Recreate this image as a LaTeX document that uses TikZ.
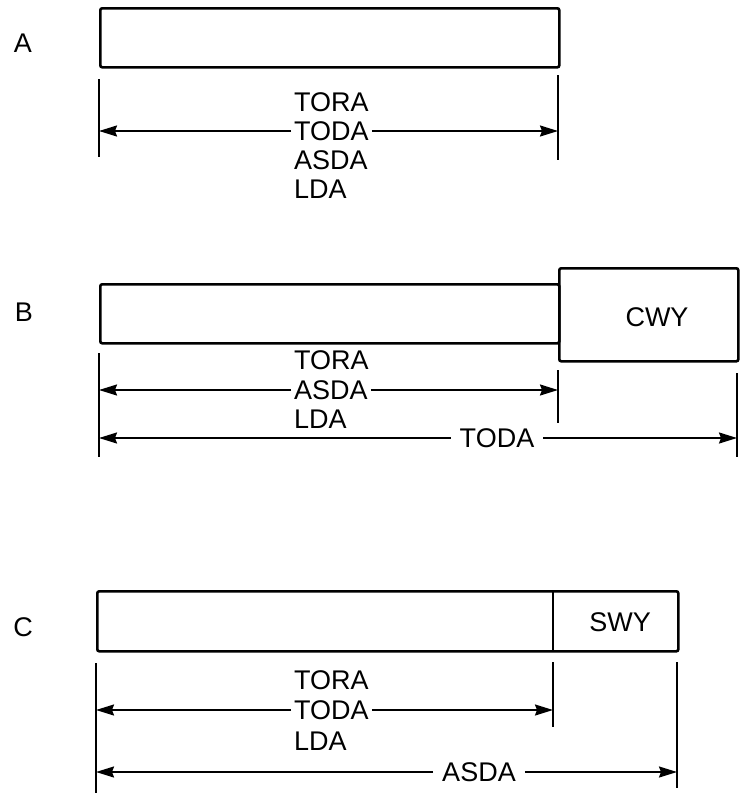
\documentclass[tikz,border=0pt]{standalone}
\usepackage{fontspec}
\setmainfont{Liberation Sans}
\usetikzlibrary{arrows.meta,positioning}

\begin{document}
\begin{tikzpicture}[x=1pt,y=-1pt,
    strip/.style={draw, line width=2.6pt, rounded corners=2pt, inner sep=0pt, anchor=north west},
    dist/.style={font=\fontsize{27}{28}\selectfont, inner sep=3pt},
    gap/.style={dist, inner xsep=9pt},
    tick/.style={line width=2.3pt},
    dim/.style={line width=1.9pt, -{Stealth[length=18pt,width=11pt,inset=2pt]}}]
    \useasboundingbox (0,0) rectangle (740,801);

    % A
    \node[dist] (labA) at (23,43) {A};
    \node[strip, minimum width=459pt, minimum height=59pt] (rwyA) at (99,7) {};
    \draw[tick] (99,79) -- (99,157);
    \draw[tick] (558,75) -- (558,160);
    \coordinate (aL) at (99,131);
    \coordinate (aR) at (558,131);
    \node[dist, anchor=west] (toraA) at (291,102) {TORA};
    \node[dist, anchor=west] (todaA) at (291,131) {TODA};
    \node[dist, anchor=west] (asdaA) at (291,160) {ASDA};
    \node[dist, anchor=west] (ldaA) at (291,189) {LDA};
    \draw[dim] (todaA) -- (aL);
    \draw[dim] (todaA) -- (aR);

    % B
    \node[dist] (labB) at (24,312) {B};
    \node[strip, minimum width=459pt, minimum height=59pt] (rwyB) at (99,283) {};
    \node[strip, minimum width=179pt, minimum height=93pt] (cwyB) at (558,267) {};
    \node[dist] (cwyText) at (657,317) {CWY};
    \draw[tick] (99,353) -- (99,457);
    \draw[tick] (558,370) -- (558,423);
    \draw[tick] (737,373) -- (737,457);
    \coordinate (bL) at (99,390);
    \coordinate (bR) at (558,390);
    \coordinate (bLL) at (99,438);
    \coordinate (bRR) at (737,438);
    \node[dist, anchor=west] (toraB) at (291,360) {TORA};
    \node[dist, anchor=west] (asdaB) at (291,390) {ASDA};
    \node[dist, anchor=west] (ldaB) at (291,419) {LDA};
    \node[gap] (todaB) at (497,438) {TODA};
    \draw[dim] (asdaB) -- (bL);
    \draw[dim] (asdaB) -- (bR);
    \draw[dim] (todaB) -- (bLL);
    \draw[dim] (todaB) -- (bRR);

    % C
    \node[dist] (labC) at (23,627) {C};
    \node[strip, minimum width=581pt, minimum height=60pt] (rwyC) at (96,590) {};
    \draw[line width=2.3pt] (553,590) -- (553,650);
    \node[dist] (swyText) at (620,622) {SWY};
    \draw[tick] (96,663) -- (96,793);
    \draw[tick] (553,662) -- (553,727);
    \draw[tick] (677,662) -- (677,788);
    \coordinate (cL) at (96,710);
    \coordinate (cR) at (553,710);
    \coordinate (cLL) at (96,772);
    \coordinate (cRR) at (677,772);
    \node[dist, anchor=west] (toraC) at (291,680) {TORA};
    \node[dist, anchor=west] (todaC) at (291,710) {TODA};
    \node[dist, anchor=west] (ldaC) at (291,741) {LDA};
    \node[gap] (asdaC) at (479,772) {ASDA};
    \draw[dim] (todaC) -- (cL);
    \draw[dim] (todaC) -- (cR);
    \draw[dim] (asdaC) -- (cLL);
    \draw[dim] (asdaC) -- (cRR);
\end{tikzpicture}
\end{document}
